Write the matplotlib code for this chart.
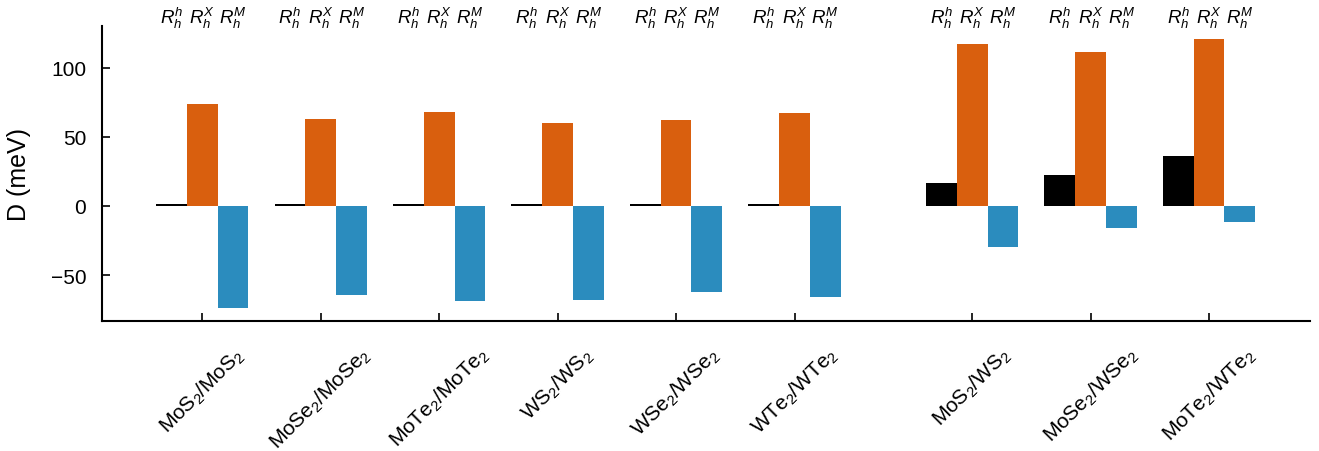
import matplotlib.pyplot as plt
import numpy as np

plt.rcParams['font.family'] = 'Liberation Sans'
plt.rcParams['mathtext.fontset'] = 'custom'
plt.rcParams['mathtext.rm'] = 'Liberation Sans'
plt.rcParams['mathtext.it'] = 'Liberation Sans:italic'

# bilayer systems; the last three are heterobilayers
systems = ['MoS$_2$/MoS$_2$', 'MoSe$_2$/MoSe$_2$', 'MoTe$_2$/MoTe$_2$',
           'WS$_2$/WS$_2$', 'WSe$_2$/WSe$_2$', 'WTe$_2$/WTe$_2$',
           'MoS$_2$/WS$_2$', 'MoSe$_2$/WSe$_2$', 'MoTe$_2$/WTe$_2$']
positions = [0, 1, 2, 3, 4, 5, 6.5, 7.5, 8.5]

# D (meV) for each stacking
D_hh = [1.2, 1.2, 1.2, 1.2, 1.2, 1.2, 16.5, 22.3, 36.0]
D_hX = [74.0, 62.6, 67.6, 59.7, 61.9, 66.9, 117.0, 111.5, 121.0]
D_hM = [-73.4, -64.0, -69.0, -67.6, -61.9, -65.5, -29.5, -15.8, -11.5]

stack_labels = ['$R_h^h$', '$R_h^X$', '$R_h^M$']
colors = ['black', '#d95f0e', '#2b8cbe']

x = np.array(positions)
w = 0.26

fig, ax = plt.subplots(figsize=(13.19, 4.52), dpi=100)
for k, (vals, c) in enumerate(zip([D_hh, D_hX, D_hM], colors)):
    ax.bar(x + (k - 1) * w, vals, w, color=c)
    for xi in x:
        ax.text(xi + (k - 1) * w, 127.5, stack_labels[k], ha='center', va='bottom',
                fontsize=13.5, clip_on=False)

ax.set_xlim(-0.85, 9.35)
ax.set_ylim(-83, 130)
ax.set_yticks([-50, 0, 50, 100])
ax.set_yticklabels(['\u221250', '0', '50', '100'])
ax.set_xticks(x)
ax.set_xticklabels(systems, rotation=45, ha='center', fontsize=16.5)
ax.set_ylabel('D (meV)', fontsize=18, labelpad=14)
ax.tick_params(direction='in', labelsize=15, width=1.2, length=6)
ax.tick_params(axis='y', pad=11)
ax.tick_params(axis='x', pad=16)
for s in ['top', 'right']:
    ax.spines[s].set_visible(False)
for s in ['left', 'bottom']:
    ax.spines[s].set_linewidth(1.5)

plt.subplots_adjust(left=0.077, right=0.993, top=0.94, bottom=0.288)
plt.savefig('out.png', dpi=100)
